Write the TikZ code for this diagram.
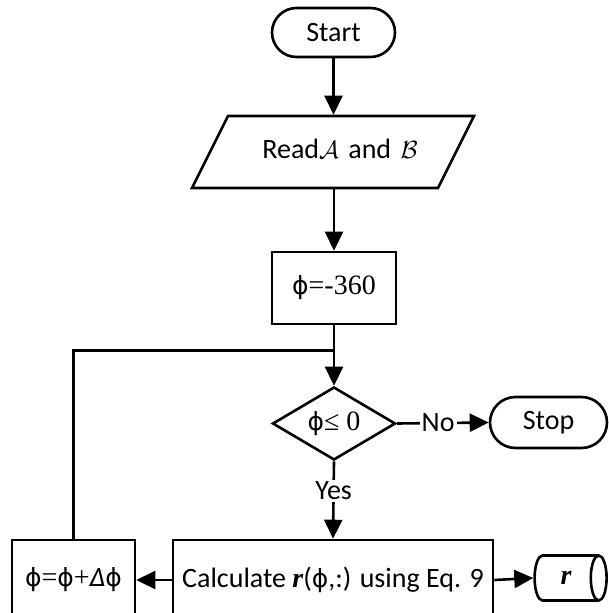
\documentclass[tikz,border=0pt]{standalone}
\usepackage{fontspec}
\setmainfont{Carlito}
\newfontfamily\serif{Liberation Serif}
\newfontfamily\phifont{DejaVu Sans}
\newcommand{\myphi}{{\phifont\fontsize{25}{30}\selectfont ϕ}}
\usetikzlibrary{shapes.geometric,shapes.misc,arrows.meta}
\begin{document}
\begin{tikzpicture}[x=1pt,y=-1pt,
  every node/.style={font=\fontsize{28}{33}\selectfont},
  ln/.style={line width=2.6pt},
  arr/.style={ln,-{Triangle[length=19pt,width=18pt]}},
  box/.style={draw,ln,rectangle,inner sep=0pt},
  term/.style={draw,ln,rounded rectangle,inner sep=0pt},
  para/.style={draw,ln,trapezium,trapezium left angle=63.43,trapezium right angle=116.57,
    text width=180pt,align=center,text height=20pt,text depth=8pt,inner xsep=15pt,inner ysep=22pt},
  dec/.style={draw,ln,diamond,aspect=1.68,inner sep=0pt},
  store/.style={draw,ln,cylinder,aspect=1.2,inner sep=0pt},
  lbl/.style={fill=white,inner sep=2pt}
]
\useasboundingbox (0,0) rectangle (608,613);
\node[term,minimum width=123pt,minimum height=49pt] (start) at (333.5,32.5) {Start};
\node[para] (read) at (333,152) {\hspace*{14pt}Read$\mathcal{A}$ and $\mathcal{B}$};
\node[box,minimum width=124pt,minimum height=72pt] (init) at (334,288) {\myphi{\serif =-360}};
\node[dec,minimum width=123pt,minimum height=73pt] (cond) at (334,423.5) {\myphi{\serif ≤ 0}};
\node[term,minimum width=117pt,minimum height=51pt] (stop) at (548.5,422.5) {Stop};
\node[box,minimum width=320pt,minimum height=80pt] (calc) at (333,580) {Calculate {\serif\bfseries\itshape r}(\myphi,:) using Eq. 9};
\node[box,minimum width=123pt,minimum height=80pt] (upd) at (73.5,580) {\myphi{\serif =}\myphi{\serif +}{\itshape Δ}\myphi};
\node[store,minimum height=72pt,minimum width=45pt] (out) at (566,578) {{\serif\bfseries\itshape r}};
\path (init.south) ++(0,25) coordinate (join);
\draw[arr] (start.south) -- (start.south |- read.north);
\draw[arr] (read.south -| init.north) -- (init.north);
\draw[arr] (init.south) -- (cond.north);
\draw[ln] (upd.north) |- (join);
\draw[arr] (cond.east) -- node[lbl,pos=0.45] {No} (stop.west);
\draw[arr] (cond.south) -- node[lbl,pos=0.38] {Yes} (calc.north);
\draw[arr] (calc.west) -- (upd.east);
\draw[arr] (calc.east) -- (out.west);
\end{tikzpicture}
\end{document}
